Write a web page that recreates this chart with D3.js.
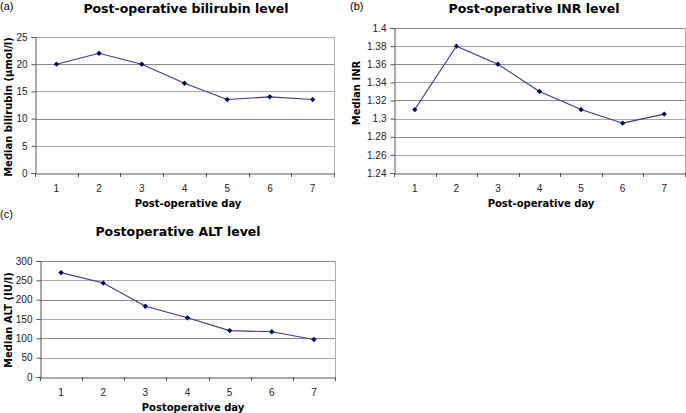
<!DOCTYPE html>
<html><head><meta charset="utf-8">
<script src="https://cdn.jsdelivr.net/npm/d3@7"></script>
<style>
html,body{margin:0;padding:0;background:#fff;}
svg{display:block;}
.tick text{font-family:"Liberation Sans",Arial,sans-serif;font-size:10px;fill:#222;}
.ttl{font-family:"DejaVu Sans",Verdana,sans-serif;font-weight:bold;font-size:12.5px;fill:#000;}
.atl{font-family:"DejaVu Sans",Verdana,sans-serif;font-weight:bold;font-size:10px;fill:#000;}
.lbl{font-family:"Liberation Sans",Arial,sans-serif;font-size:11px;fill:#000;}
</style></head>
<body>
<svg id="c" width="686" height="413"></svg>
<script>
const days = [1,2,3,4,5,6,7];
const bilirubin = [20,22,20,16.5,13.5,14,13.5];
const inr = [1.31,1.38,1.36,1.33,1.31,1.295,1.305];
const alt = [270,243,183,153,120,117,97];
const bilirubinTicks = [0,5,10,15,20,25];
const inrTicks = [1.24,1.26,1.28,1.3,1.32,1.34,1.36,1.38,1.4];
const altTicks = [0,50,100,150,200,250,300];

const svg = d3.select("#c");

function panel(o){
  const g = svg.append("g");
  const x = d3.scaleBand().domain(days).range([o.left,o.right]).padding(0);
  const y = d3.scaleLinear().domain([o.ticks[0],o.ticks[o.ticks.length-1]]).range([o.bottom,o.top]);
  g.selectAll(".grid").data(o.ticks.slice(1)).enter().append("line")
    .attr("x1",o.left).attr("x2",o.right)
    .attr("y1",d=>Math.round(y(d))+0.5).attr("y2",d=>Math.round(y(d))+0.5)
    .attr("stroke",(d,i)=>i%2? "#8a8a8a":"#a8a8a8").attr("stroke-width",1);
  g.append("line").attr("x1",Math.round(o.right)+0.5).attr("x2",Math.round(o.right)+0.5)
    .attr("y1",o.top).attr("y2",o.bottom).attr("stroke","#b0b0b0");
  const ya = g.append("g").attr("transform",`translate(${Math.round(o.left)+0.5},0)`)
    .call(d3.axisLeft(y).tickValues(o.ticks).tickSize(4).tickPadding(4).tickFormat(o.fmt));
  ya.select(".domain").attr("stroke","#555");
  ya.selectAll(".tick line").attr("stroke","#555");
  const xa = g.append("g").attr("transform",`translate(0,${Math.round(o.bottom)+0.5})`)
    .call(d3.axisBottom(x).tickSize(0).tickPadding(11));
  xa.select(".domain").attr("stroke","#555");
  const bounds = days.map(d=>x(d)).concat([o.right]);
  g.selectAll(".xt").data(bounds).enter().append("line")
    .attr("x1",d=>Math.round(d)+0.5).attr("x2",d=>Math.round(d)+0.5)
    .attr("y1",o.bottom).attr("y2",o.bottom+4).attr("stroke","#555");
  const cx = d=>x(d)+x.bandwidth()/2;
  const line = d3.line().x((d,i)=>cx(days[i])).y(d=>y(d));
  g.append("path").datum(o.data).attr("d",line).attr("fill","none")
    .attr("stroke","#3a3a8c").attr("stroke-width",1.1);
  g.selectAll(".m").data(o.data).enter().append("path")
    .attr("d",d3.symbol(d3.symbolSquare,14))
    .attr("transform",(d,i)=>`translate(${cx(days[i])},${y(d)}) rotate(45)`)
    .attr("fill","#00005a");
  g.append("text").attr("class","ttl").attr("x",o.tx).attr("y",o.ty).attr("text-anchor","middle").text(o.title);
  g.append("text").attr("class","atl").attr("x",o.xtx).attr("y",o.xty).attr("text-anchor","middle").text(o.xtitle);
  g.append("text").attr("class","atl").attr("transform",`translate(${o.ytx},${o.yty}) rotate(-90)`)
    .attr("text-anchor","middle").attr("dy","0.35em").text(o.ytitle);
  g.append("text").attr("class","lbl").attr("x",o.lx).attr("y",o.ly).text(o.label);
}

panel({left:35,right:334,top:37,bottom:173,ticks:bilirubinTicks,data:bilirubin,fmt:d3.format("d"),
  title:"Post-operative bilirubin level",tx:186,ty:13,xtitle:"Post-operative day",xtx:188,xty:207,
  ytitle:"Median bilirubin (\u00b5mol/l)",ytx:8,yty:107,label:"(a)",lx:0,ly:10});
panel({left:394,right:685,top:28,bottom:173,ticks:inrTicks,data:inr,fmt:d=>String(+d.toFixed(2)),
  title:"Post-operative INR level",tx:534,ty:13,xtitle:"Post-operative day",xtx:541,xty:207,
  ytitle:"Median INR",ytx:356,yty:93,label:"(b)",lx:350,ly:10});
panel({left:40,right:335,top:261,bottom:377,ticks:altTicks,data:alt,fmt:d3.format("d"),
  title:"Postoperative ALT level",tx:178,ty:236,xtitle:"Postoperative day",xtx:193,xty:411,
  ytitle:"Median ALT (IU/I)",ytx:8,yty:320,label:"(c)",lx:0,ly:218});
</script>
</body></html>
